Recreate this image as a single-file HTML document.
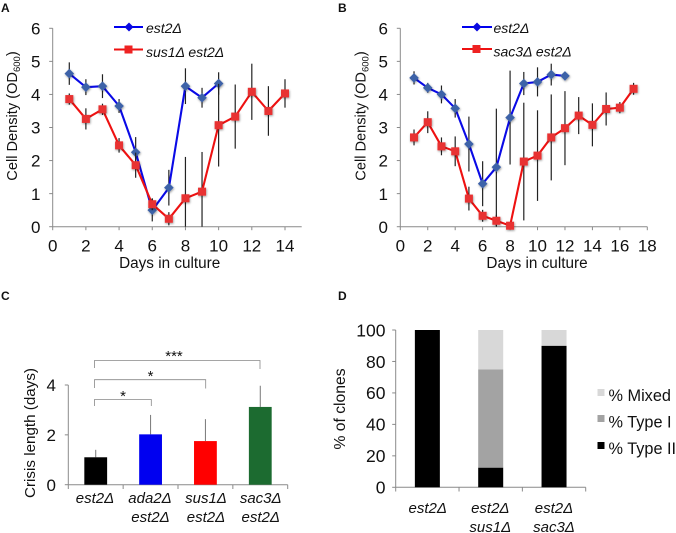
<!DOCTYPE html>
<html>
<head>
<meta charset="utf-8">
<style>
html,body{margin:0;padding:0;background:#fff;width:676px;height:533px;overflow:hidden}
svg{display:block;font-family:"Liberation Sans",sans-serif;fill:#111;filter:blur(0.35px)}
text{fill:#111}
.it{font-style:italic}
</style>
</head>
<body>
<svg id="fig" xmlns="http://www.w3.org/2000/svg" width="676" height="533" viewBox="0 0 676 533">
<defs>
<filter id="sh" x="-60%" y="-60%" width="220%" height="220%"><feDropShadow dx="0.6" dy="1" stdDeviation="1" flood-color="#000" flood-opacity="0.4"/></filter>
</defs>
<text x="1" y="12" font-size="12" font-weight="bold">A</text>
<text x="338" y="12" font-size="12" font-weight="bold">B</text>
<text x="1" y="300" font-size="12" font-weight="bold">C</text>
<text x="338" y="300" font-size="12" font-weight="bold">D</text>

<text transform="translate(17,116) rotate(-90)" text-anchor="middle" font-size="14.6">Cell Density (OD<tspan font-size="9.500" dy="3">600</tspan><tspan dy="-3">)</tspan></text>
<text x="169.700" y="268" text-anchor="middle" font-size="15.300">Days in culture</text>
<text transform="translate(365.500,116) rotate(-90)" text-anchor="middle" font-size="14.6">Cell Density (OD<tspan font-size="9.500" dy="3">600</tspan><tspan dy="-3">)</tspan></text>
<text x="537" y="268" text-anchor="middle" font-size="15.300">Days in culture</text>
<text transform="translate(35,433) rotate(-90)" text-anchor="middle" font-size="15.200">Crisis length (days)</text>
<text transform="translate(345,409) rotate(-90)" text-anchor="middle" font-size="15.700">% of clones</text>

<g>
<line x1="114" x2="143" y1="27" y2="27" stroke="#0000ee" stroke-width="2"/>
<path d="M129 22.500L133.500 27L129 31.500L124.500 27Z" fill="#0a0ae0"/>
<text class="it" x="146" y="33" font-size="14">est2Δ</text>
<line x1="114" x2="143" y1="49.500" y2="49.500" stroke="#ee1111" stroke-width="2"/>
<rect x="124.500" y="45.500" width="8" height="8" fill="#ee2222"/>
<text class="it" x="146" y="57" font-size="14">sus1Δ est2Δ</text>
</g>
<g>
<line x1="462" x2="492" y1="27" y2="27" stroke="#0000ee" stroke-width="2"/>
<path d="M477 22.500L481.500 27L477 31.500L472.500 27Z" fill="#0a0ae0"/>
<text class="it" x="493.500" y="33" font-size="14">est2Δ</text>
<line x1="462" x2="492" y1="49" y2="49" stroke="#ee1111" stroke-width="2"/>
<rect x="472.500" y="45" width="8" height="8" fill="#ee2222"/>
<text class="it" x="493.500" y="56.500" font-size="14">sac3Δ est2Δ</text>
</g>

<g fill="none" stroke="#888" stroke-width="0.8">
<path d="M94.500 368V360.500H260V369"/>
<path d="M94.500 388V379.700H205.700V388.500"/>
<path d="M94.500 406V399.500H151.300V406"/>
</g>
<text x="174" y="361" text-anchor="middle" font-size="15">***</text>
<text x="150.500" y="381" text-anchor="middle" font-size="15">*</text>
<text x="123" y="401" text-anchor="middle" font-size="15">*</text>

<g class="it" font-size="15" text-anchor="middle">
<text x="95" y="503">est2Δ</text>
<text x="150" y="503">ada2Δ</text><text x="150.500" y="522">est2Δ</text>
<text x="206" y="503">sus1Δ</text><text x="206" y="522">est2Δ</text>
<text x="260.700" y="503">sac3Δ</text><text x="260.700" y="522">est2Δ</text>
</g>
<g class="it" font-size="15" text-anchor="middle">
<text x="427.700" y="513">est2Δ</text>
<text x="490.300" y="513">est2Δ</text><text x="490.300" y="532">sus1Δ</text>
<text x="554" y="513">est2Δ</text><text x="554" y="532">sac3Δ</text>
</g>

<g>
<rect x="597.500" y="389" width="7" height="7" fill="#d8d8d8"/>
<text x="608.500" y="401" font-size="16.300">% Mixed</text>
<rect x="597.500" y="415" width="7" height="7" fill="#a3a3a3"/>
<text x="608.500" y="427.300" font-size="16.300">% Type I</text>
<rect x="597.500" y="442" width="7" height="7" fill="#000"/>
<text x="608.500" y="454" font-size="16.300">% Type II</text>
</g>
<g id="plots"></g>
</svg>
<script>
var daysA = [1,2,3,4,5,6,7,8,9,10,11,12,13,14];
var aEst2 = [4.63,4.22,4.25,3.65,2.25,0.5,1.18,4.25,3.9,4.33];
var aEst2Err = [0.34,0.24,0.36,0.21,0.46,0.34,0.54,0.54,0.3,0.34];
var aSus1 = [3.86,3.26,3.55,2.46,1.86,0.68,0.24,0.86,1.06,3.07,3.33,4.08,3.5,4.03];
var aSus1Err = [0.17,0.32,0.17,0.22,0.38,0.18,0.2,1.25,1.2,1.25,0.97,0.85,0.75,0.43];
var daysB = [1,2,3,4,5,6,7,8,9,10,11,12,13,14,15,16,17];
var bEst2 = [4.5,4.2,4.0,3.58,2.5,1.3,1.8,3.3,4.33,4.38,4.6,4.56];
var bEst2Err = [0.2,0.15,0.27,0.28,0.83,0.68,1.77,1.42,0.35,0.44,0.33,0];
var bSac3 = [2.7,3.16,2.43,2.28,0.85,0.33,0.18,0.03,1.97,2.15,2.7,2.98,3.36,3.08,3.56,3.6,4.17];
var bSac3Err = [0.24,0.33,0.27,0.45,0.36,0.18,0.18,0,1.78,1.37,1.3,1.12,0.56,0.65,0.5,0.17,0.18];
var densityTicks = [0,1,2,3,4,5,6];
var dayTicksA = [0,2,4,6,8,10,12,14];
var dayTicksB = [0,2,4,6,8,10,12,14,16,18];
var crisisNames = ['est2','ada2','sus1','sac3'];
var crisisValues = [1.1,2.02,1.75,3.12];
var crisisErr = [0.3,0.78,0.88,0.85];
var crisisColors = ['#000000','#0000f0','#ff0000','#1c6b30'];
var crisisTicks = [0,2,4];
var cloneNames = ['est2','est2-sus1','est2-sac3'];
var typeII = [100,12.5,90];
var typeI = [0,62.5,0];
var mixed = [0,25,10];
var cloneTicks = [0,20,40,60,80,100];

var NS = 'http://www.w3.org/2000/svg';
var root = document.getElementById('plots');
function make(tag, attrs, text) {
  var el = document.createElementNS(NS, tag);
  for (var k in attrs) el.setAttribute(k, attrs[k]);
  if (text !== undefined) el.textContent = text;
  root.appendChild(el);
  return el;
}
function scale(d0, d1, r0, r1) {
  return function (v) { return r0 + (v - d0) * (r1 - r0) / (d1 - d0); };
}
function axes(x0, x1, y0, y1, prefix) {
  var a = make('line', {x1:x0,x2:x1,y1:y0,y2:y0,stroke:'#8a8a8a','stroke-width':1});
  
  
  var b = make('line', {x1:x0,x2:x0,y1:y0,y2:y1,stroke:'#8a8a8a','stroke-width':1});
  
  
}
function yTicks(ticks, y, x0, prefix, fs, labelX) {
  ticks.forEach(function (t) {
    var m = make('line', {x1:x0-3.5,x2:x0,y1:y(t),y2:y(t),stroke:'#8a8a8a','stroke-width':1});
    
    
    var l = make('text', {x:labelX,y:y(t)+fs*0.36,'text-anchor':'end','font-size':fs}, t);
    
    
  });
}
function xTicks(ticks, x, y0, prefix, fs) {
  ticks.forEach(function (t) {
    var m = make('line', {x1:x(t),x2:x(t),y1:y0,y2:y0+3.5,stroke:'#8a8a8a','stroke-width':1});
    
    
    var l = make('text', {x:x(t),y:y0+25,'text-anchor':'middle','font-size':fs}, t);
    
    
  });
}
function series(days, vals, errs, x, y, color, markColor, shape, name) {
  vals.forEach(function (v, i) {
    if (!errs[i]) return;
    var e = make('line', {x1:x(days[i]),x2:x(days[i]),y1:y(Math.min(6,v+errs[i])),y2:y(Math.max(0,v-errs[i])),stroke:'#222','stroke-width':1.2});
    
    
  });
  var pts = vals.map(function (v, i) { return x(days[i]).toFixed(1) + ',' + y(v).toFixed(1); }).join(' ');
  var p = make('polyline', {points:pts,fill:'none',stroke:color,'stroke-width':2.1,'stroke-linejoin':'round'});
  
  
  vals.forEach(function (v, i) {
    var cx = x(days[i]), cy = y(v), m;
    if (shape === 'diamond') {
      m = make('path', {d:'M'+cx+' '+(cy-4.8)+'L'+(cx+4.8)+' '+cy+'L'+cx+' '+(cy+4.8)+'L'+(cx-4.8)+' '+cy+'Z',fill:markColor,filter:'url(#sh)'});
    } else {
      m = make('rect', {x:cx-4,y:cy-4,width:8,height:8,fill:markColor,filter:'url(#sh)'});
    }
    
    
  });
}

/* Panel A */
var xA = scale(0,14,52.7,285), yA = scale(0,6,226.7,28.3);
axes(52.7,301.7,226.7,28.3,'panel-a');
yTicks(densityTicks,yA,52.7,'panel-a',17,40.5);
xTicks(dayTicksA,xA,226.7,'panel-a',17);
series(daysA,aEst2,aEst2Err,xA,yA,'#0a0ae6','#3d62a8','diamond','panel-a-est2');
series(daysA,aSus1,aSus1Err,xA,yA,'#ee1111','#e83030','square','panel-a-sus1-est2');

/* Panel B */
var xB = scale(0,18,400.3,647.3), yB = scale(0,6,226.7,28.3);
axes(400.3,647.3,226.7,28.3,'panel-b');
yTicks(densityTicks,yB,400.3,'panel-b',17,388);
xTicks(dayTicksB,xB,226.7,'panel-b',17);
series(daysB,bEst2,bEst2Err,xB,yB,'#0a0ae6','#3d62a8','diamond','panel-b-est2');
series(daysB,bSac3,bSac3Err,xB,yB,'#ee1111','#e83030','square','panel-b-sac3-est2');

/* Panel C */
var yC = scale(0,4,484.7,385);
var cStep = (287.7-68.3)/crisisValues.length;
axes(68.3,287.7,484.7,385,'panel-c');
yTicks(crisisTicks,yC,68.3,'panel-c',17,56);
for (var ci = 0; ci <= crisisValues.length; ci++) {
  var ct = make('line', {x1:68.3+ci*cStep,x2:68.3+ci*cStep,y1:484.7,y2:489,stroke:'#8a8a8a','stroke-width':1});
  
  
}
crisisValues.forEach(function (v, i) {
  var cx = 68.3 + (i + 0.5) * cStep;
  var e = make('line', {x1:cx,x2:cx,y1:yC(v+crisisErr[i]),y2:yC(v),stroke:'#777','stroke-width':1});
  
  
  var b = make('rect', {x:cx-11.4,y:yC(v),width:22.8,height:yC(0)-yC(v),fill:crisisColors[i]});
  
  
});

/* Panel D */
var yD = scale(0,100,487.3,330);
var dStep = (585.7-395.7)/cloneNames.length;
axes(395.7,585.7,487.3,330,'panel-d');
yTicks(cloneTicks,yD,395.7,'panel-d',17.5,385.5);
for (var di = 0; di <= cloneNames.length; di++) {
  var dt = make('line', {x1:395.7+di*dStep,x2:395.7+di*dStep,y1:487.3,y2:491.5,stroke:'#8a8a8a','stroke-width':1});
  
  
}
cloneNames.forEach(function (n, i) {
  var cx = 395.7 + (i + 0.5) * dStep;
  var base = 0;
  [[typeII,'#000000','type-ii'],[typeI,'#a3a3a3','type-i'],[mixed,'#d8d8d8','mixed']].forEach(function (s) {
    var v = s[0][i];
    if (v > 0) {
      var r = make('rect', {x:cx-12.5,y:yD(base+v),width:25,height:yD(base)-yD(base+v),fill:s[1]});
      
      
    }
    base += v;
  });
});
</script>
</body>
</html>
